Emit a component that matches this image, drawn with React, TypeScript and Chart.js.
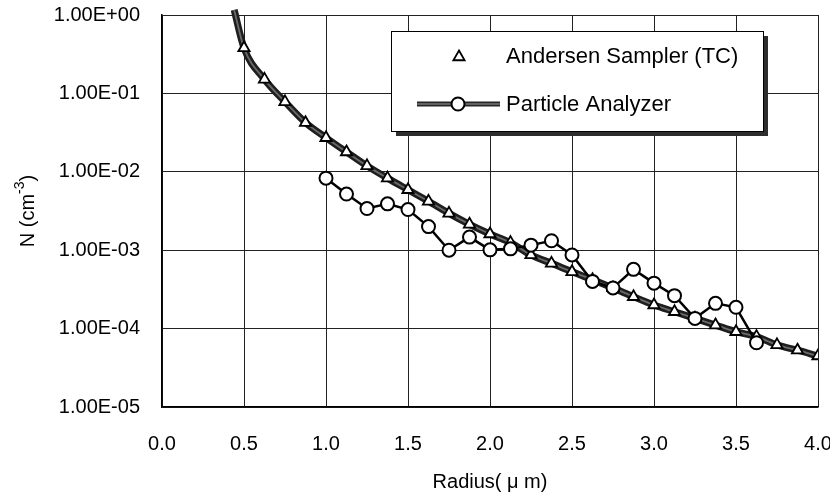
import React, { useEffect, useRef } from "react";
import { Chart, registerables } from "chart.js";

Chart.register(...registerables);

// ---- Data ----
const andersenRadius = [
  0.5, 0.625, 0.75, 0.875, 1.0, 1.125, 1.25, 1.375, 1.5, 1.625, 1.75, 1.875,
  2.0, 2.125, 2.25, 2.375, 2.5, 2.625, 2.75, 2.875, 3.0, 3.125, 3.25, 3.375,
  3.5, 3.625, 3.75, 3.875, 4.0,
];
const andersenN = [
  0.38, 0.151, 0.078, 0.0423, 0.0272, 0.0179, 0.0119, 0.0083, 0.0059, 0.0042,
  0.00295, 0.00214, 0.00161, 0.00125, 0.00087, 0.00068, 0.00053, 0.00042,
  0.00033, 0.000255, 0.0002, 0.000164, 0.000135, 0.000111, 0.0000912,
  0.000079, 0.000062, 0.000053, 0.0000447,
];
const particleRadius = [
  1.0, 1.125, 1.25, 1.375, 1.5, 1.625, 1.75, 1.875, 2.0, 2.125, 2.25, 2.375,
  2.5, 2.625, 2.75, 2.875, 3.0, 3.125, 3.25, 3.375, 3.5, 3.625,
];
const particleN = [
  0.0083, 0.0052, 0.0034, 0.0039, 0.0033, 0.002, 0.001, 0.00147, 0.00101,
  0.00104, 0.00116, 0.00132, 0.00087, 0.0004, 0.00033, 0.00057, 0.00038,
  0.000263, 0.000135, 0.00021, 0.000187, 0.000066,
];
// start of the fitted curve (runs off the top of the plot)
const fitLeadRadius = [0.44];
const fitLeadN = [1.16];

const yTickValues = [1e-5, 1e-4, 1e-3, 1e-2, 1e-1, 1];
const yTickLabels = ["1.00E-05", "1.00E-04", "1.00E-03", "1.00E-02", "1.00E-01", "1.00E+00"];
const xTickLabels = ["0.0", "0.5", "1.0", "1.5", "2.0", "2.5", "3.0", "3.5", "4.0"];
const legendLabels = ["Andersen Sampler (TC)", "Particle Analyzer"];
const yTitleParts = ["N (cm", "-3", ")"];
const xTitle = "Radius( μ m)";

const FONT = "'Liberation Sans', Arial, sans-serif";

const toPoints = (xs: number[], ys: number[]) => xs.map((x, i) => ({ x, y: ys[i] }));

const yTitlePlugin = {
  id: "yTitle",
  afterDraw(chart: any) {
    const ctx: CanvasRenderingContext2D = chart.ctx;
    const area = chart.chartArea;
    const cx = 27;
    const cy = (area.top + area.bottom) / 2;
    ctx.save();
    ctx.translate(cx, cy);
    ctx.rotate(-Math.PI / 2);
    ctx.fillStyle = "#000";
    ctx.textBaseline = "middle";
    ctx.textAlign = "left";
    const big = `20px ${FONT}`;
    const small = `14px ${FONT}`;
    ctx.font = big;
    const w0 = ctx.measureText(yTitleParts[0]).width;
    const w2 = ctx.measureText(yTitleParts[2]).width;
    ctx.font = small;
    const w1 = ctx.measureText(yTitleParts[1]).width;
    let x = -(w0 + w1 + w2) / 2;
    ctx.font = big;
    ctx.fillText(yTitleParts[0], x, 1);
    x += w0;
    ctx.font = small;
    ctx.fillText(yTitleParts[1], x, -7);
    x += w1;
    ctx.font = big;
    ctx.fillText(yTitleParts[2], x, 1);
    ctx.restore();
  },
};

const boxLegend = {
  id: "boxLegend",
  afterDraw(chart: any) {
    const ctx: CanvasRenderingContext2D = chart.ctx;
    const x0 = 391, y0 = 31, w = 372, h = 100;
    ctx.save();
    // shadow
    ctx.fillStyle = "#2e2e2e";
    ctx.fillRect(x0 + 5, y0 + 5, w, h);
    ctx.fillStyle = "#fff";
    ctx.fillRect(x0, y0, w, h);
    ctx.strokeStyle = "#000";
    ctx.lineWidth = 1;
    ctx.strokeRect(x0 + 0.5, y0 + 0.5, w, h);

    // triangle marker
    const tx = 459, ty = 57, r = 6.5;
    ctx.beginPath();
    for (let k = 0; k < 3; k++) {
      const a = (k * 2 * Math.PI) / 3;
      const px = tx + Math.sin(a) * r;
      const py = ty - Math.cos(a) * r;
      if (k === 0) ctx.moveTo(px, py);
      else ctx.lineTo(px, py);
    }
    ctx.closePath();
    ctx.fillStyle = "#fff";
    ctx.fill();
    ctx.lineWidth = 1.8;
    ctx.strokeStyle = "#000";
    ctx.stroke();

    // line + circle marker
    const ly = 104;
    ctx.beginPath();
    ctx.moveTo(417, ly);
    ctx.lineTo(500, ly);
    ctx.lineWidth = 5;
    ctx.strokeStyle = "#262626";
    ctx.stroke();
    ctx.beginPath();
    ctx.moveTo(417, ly);
    ctx.lineTo(500, ly);
    ctx.lineWidth = 1.5;
    ctx.strokeStyle = "#777";
    ctx.stroke();
    ctx.beginPath();
    ctx.arc(458, ly, 6.5, 0, Math.PI * 2);
    ctx.fillStyle = "#fff";
    ctx.fill();
    ctx.lineWidth = 2;
    ctx.strokeStyle = "#000";
    ctx.stroke();

    // texts
    ctx.fillStyle = "#000";
    ctx.font = `22px ${FONT}`;
    ctx.textAlign = "left";
    ctx.textBaseline = "middle";
    ctx.fillText(legendLabels[0], 506, 57);
    ctx.fillText(legendLabels[1], 506, 105);
    ctx.restore();
  },
};

export default function App() {
  const canvasRef = useRef<HTMLCanvasElement | null>(null);

  useEffect(() => {
    if (!canvasRef.current) return;
    const fitData = toPoints(
      [...fitLeadRadius, ...andersenRadius],
      [...fitLeadN, ...andersenN]
    );
    const chart = new Chart(canvasRef.current, {
      type: "scatter",
      data: {
        datasets: [
          {
            label: legendLabels[1],
            data: toPoints(particleRadius, particleN),
            showLine: true,
            borderColor: "#000",
            borderWidth: 2.5,
            pointStyle: "circle",
            pointRadius: 6.5,
            pointBackgroundColor: "#fff",
            pointBorderColor: "#000",
            pointBorderWidth: 2,
            order: 0,
          },
          {
            label: legendLabels[0],
            data: toPoints(andersenRadius, andersenN),
            showLine: false,
            pointStyle: "triangle",
            pointRadius: 6.5,
            pointBackgroundColor: "#fff",
            pointBorderColor: "#000",
            pointBorderWidth: 1.8,
            order: 1,
          },
          {
            label: "fit-center",
            data: fitData,
            showLine: true,
            borderColor: "#6a6a6a",
            borderWidth: 1.8,
            pointRadius: 0,
            cubicInterpolationMode: "monotone",
            clip: false,
            order: 2,
          },
          {
            label: "fit-edge",
            data: fitData,
            showLine: true,
            borderColor: "#1e1e1e",
            borderWidth: 7,
            pointRadius: 0,
            cubicInterpolationMode: "monotone",
            clip: false,
            order: 3,
          },
        ],
      } as any,
      options: {
        animation: false,
        responsive: false,
        events: [],
        layout: { padding: { top: 15, right: 12, left: 0, bottom: 0 } },
        plugins: {
          legend: { display: false },
          tooltip: { enabled: false },
        },
        scales: {
          x: {
            type: "linear",
            min: 0,
            max: 4,
            ticks: {
              stepSize: 0.5,
              autoSkip: false,
              maxRotation: 0,
              padding: 25,
              color: "#000",
              font: { family: FONT, size: 20 },
              callback: (_v: any, i: number) => xTickLabels[i],
            },
            grid: { color: "#222", lineWidth: 1, drawTicks: false },
            border: { color: "#000", width: 1.5 },
            title: {
              display: true,
              text: xTitle,
              color: "#000",
              font: { family: FONT, size: 20 },
              padding: { top: 0, bottom: 7 },
            },
            afterFit: (s: any) => {
              s.height = 94;
              s.paddingLeft = 0;
              s.paddingRight = 0;
            },
          },
          y: {
            type: "logarithmic",
            min: 1e-5,
            max: 1,
            afterBuildTicks: (axis: any) => {
              axis.ticks = yTickValues.map((v) => ({ value: v }));
            },
            ticks: {
              autoSkip: false,
              padding: 22,
              color: "#000",
              font: { family: FONT, size: 20 },
              callback: (_v: any, i: number) => yTickLabels[i],
            },
            grid: { color: "#222", lineWidth: 1, drawTicks: false },
            border: { color: "#000", width: 1.5 },
            title: { display: false },
            afterFit: (s: any) => {
              s.width = 162;
              s.paddingTop = 0;
              s.paddingBottom = 0;
            },
          },
        },
      } as any,
      plugins: [boxLegend, yTitlePlugin],
    });
    return () => chart.destroy();
  }, []);

  return (
    <div style={{ position: "fixed", left: 0, top: 0, width: 830, height: 501, background: "#fff" }}>
      <canvas ref={canvasRef} width={830} height={501} style={{ display: "block" }} />
    </div>
  );
}
